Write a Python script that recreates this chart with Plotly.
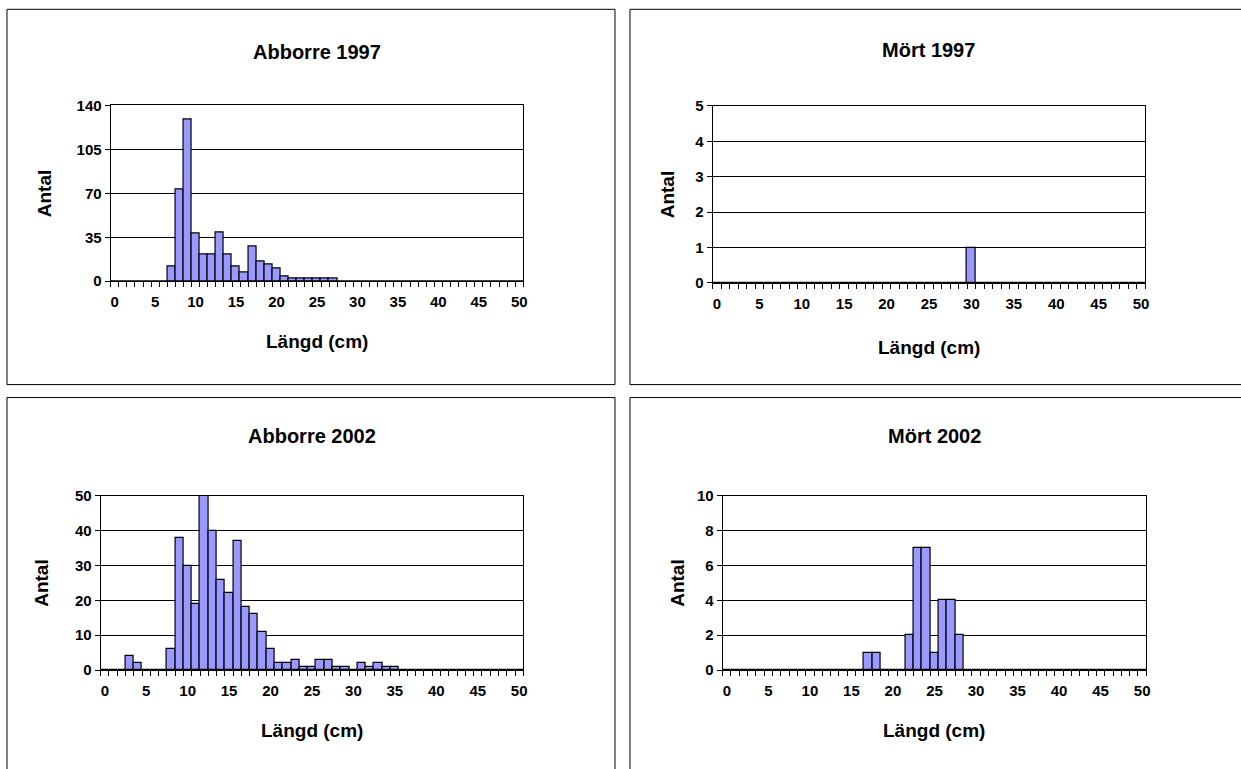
import plotly.graph_objects as go

# Length classes (cm) shared by all four histograms
lengths = list(range(0, 51))
tick_labels = [str(v) for v in range(0, 51, 5)]


def counts(pairs):
    """Expand {length: count} into a full list over all length classes."""
    return [pairs.get(l, 0) for l in lengths]


# Abborre (perch) 1997
abborre_1997 = counts({7: 12, 8: 73, 9: 129, 10: 38, 11: 21, 12: 21, 13: 39,
                       14: 21, 15: 12, 16: 7, 17: 28, 18: 16, 19: 13, 20: 10,
                       21: 4, 22: 2, 23: 2, 24: 2, 25: 2, 26: 2, 27: 2})
# Mört (roach) 1997
mort_1997 = counts({30: 1})
# Abborre 2002
abborre_2002 = counts({3: 4, 4: 2, 8: 6, 9: 38, 10: 30, 11: 19, 12: 50, 13: 40,
                       14: 26, 15: 22, 16: 37, 17: 18, 18: 16, 19: 11, 20: 6,
                       21: 2, 22: 2, 23: 3, 24: 1, 25: 1, 26: 3, 27: 3, 28: 1,
                       29: 1, 31: 2, 32: 1, 33: 2, 34: 1, 35: 1})
# Mört 2002
mort_2002 = counts({17: 1, 18: 1, 22: 2, 23: 7, 24: 7, 25: 1, 26: 4, 27: 4,
                    28: 2})

W, H = 1241, 769
FONT = "Arial, Liberation Sans, sans-serif"
BAR_FILL = "#9999ff"


def px_x(x):
    return x / W


def px_y(y):
    # vertical layout positions are given on the displayed page grid
    y = (y - 6.2) / 0.981
    return 1 - y / H


# panel: title, data, y max, y step, plot box (left, top, right, bottom),
# panel frame (left, top, right, bottom), y title offset, x title y, title y
panels = [
    ("Abborre 1997", abborre_1997, 140, 35, (111, 103, 525, 279.3),
     (7, 6.5, 617, 383), 66, 340, 49),
    ("Mört 1997", mort_1997, 5, 1, (715, 103.5, 1149, 281),
     (632, 6.5, 1262, 383), 45, 346, 47),
    ("Abborre 2002", abborre_2002, 50, 10, (101, 494.7, 525, 669.3),
     (7, 396, 617, 800), 59, 730, 435),
    ("Mört 2002", mort_2002, 10, 2, (725, 494.7, 1150, 669.3),
     (632, 396, 1262, 800), 45, 730, 435),
]

fig = go.Figure()
shapes = []
annotations = []

for i, (title, data, ymax, ystep, box, frame, ytoff, xty, ty) in enumerate(panels, start=1):
    xa = "x" if i == 1 else f"x{i}"
    ya = "y" if i == 1 else f"y{i}"
    fig.add_trace(go.Bar(
        x=lengths, y=data, xaxis=xa, yaxis=ya,
        marker=dict(color=BAR_FILL, line=dict(color="black", width=1.2)),
        width=1.0, showlegend=False, hoverinfo="x+y",
    ))
    l, t, r, b = box
    axis_font = dict(family=FONT, size=15, color="black", weight="bold")
    xkey = "xaxis" if i == 1 else f"xaxis{i}"
    ykey = "yaxis" if i == 1 else f"yaxis{i}"
    fig.layout[xkey] = dict(
        domain=[px_x(l), px_x(r)], anchor=ya,
        range=[-0.5, 50.5], tickmode="array",
        tickvals=list(range(0, 51, 5)), ticktext=tick_labels,
        ticks="outside", ticklen=7, tickcolor="rgba(0,0,0,0)",
        tickfont=axis_font, showgrid=False, zeroline=False,
        showline=True, linecolor="black", linewidth=1, mirror=True,
        minor=dict(tickmode="array", tickvals=[v - 0.5 for v in range(52)],
                   ticks="outside", ticklen=5, tickcolor="black", tickwidth=1,
                   showgrid=False),
        fixedrange=True,
    )
    fig.layout[ykey] = dict(
        domain=[px_y(b), px_y(t)], anchor=xa,
        range=[0, ymax], tickmode="linear", tick0=0, dtick=ystep,
        ticks="outside", ticklen=5, tickcolor="black", tickwidth=1,
        tickfont=axis_font, showgrid=True, gridcolor="black", gridwidth=1,
        zeroline=False, showline=True, linecolor="black", linewidth=1,
        mirror=True, fixedrange=True,
    )

    fl, ft, fr, fb = frame
    shapes.append(dict(type="rect", xref="paper", yref="paper",
                       x0=px_x(fl), x1=px_x(fr), y0=px_y(fb), y1=px_y(ft),
                       line=dict(color="black", width=1), layer="below"))

    cx = (l + r) / 2
    annotations.append(dict(text=title, x=px_x(cx), y=px_y(ty),
                            xref="paper", yref="paper", showarrow=False,
                            xanchor="center", yanchor="middle",
                            font=dict(family=FONT, size=20, color="black",
                                      weight="bold")))
    annotations.append(dict(text="Längd (cm)", x=px_x(cx), y=px_y(xty),
                            xref="paper", yref="paper", showarrow=False,
                            xanchor="center", yanchor="middle",
                            font=dict(family=FONT, size=19, color="black",
                                      weight="bold")))
    annotations.append(dict(text="Antal", x=px_x(l - ytoff),
                            y=px_y((t + b) / 2),
                            xref="paper", yref="paper", showarrow=False,
                            xanchor="center", yanchor="middle", textangle=-90,
                            font=dict(family=FONT, size=19, color="black",
                                      weight="bold")))

fig.update_layout(
    width=W, height=H, margin=dict(l=0, r=0, t=0, b=0),
    paper_bgcolor="white", plot_bgcolor="white",
    bargap=0, shapes=shapes, annotations=annotations,
)

fig.write_html("out.html")
